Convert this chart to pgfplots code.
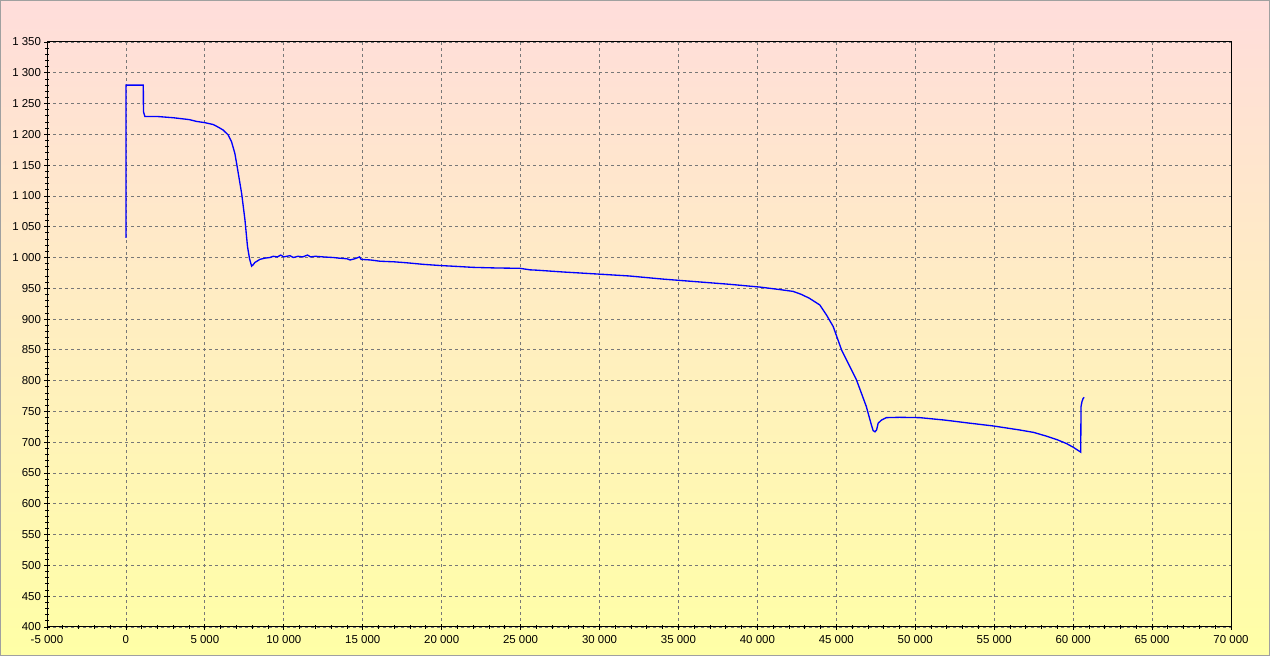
\documentclass[border=0pt]{standalone}
\usepackage{pgfplots}
\pgfplotsset{compat=1.18}
\usepackage{fontspec}
\setmainfont{Liberation Sans}
\definecolor{bgtop}{RGB}{255,221,219}
\definecolor{bgbot}{RGB}{255,255,166}
\definecolor{gridc}{RGB}{120,120,120}
\begin{document}
\begin{tikzpicture}[x=0.75pt,y=0.75pt]
\shade[top color=bgtop, bottom color=bgbot] (0,0) rectangle (1270,656);
\draw[color={rgb,255:red,160;green,160;blue,160}, line width=0.75pt] (0.5,0.5) rectangle (1269.5,655.5);
\begin{axis}[
  at={(47*0.75pt,29*0.75pt)}, anchor=south west,
  scale only axis,
  width=888pt, height=438.75pt,
  xmin=-5000, xmax=70000, ymin=400, ymax=1350,
  xtick={-5000,0,...,70000},
  ytick={400,450,...,1350},
  minor x tick num=4,
  minor y tick num=4,
  tick pos=left,
  tick align=center,
  major tick length=4pt,
  minor tick length=2.5pt,
  tick style={black, line width=0.6pt},
  axis line style={black, line width=0.75pt},
  grid=major,
  major grid style={gridc, dash pattern=on 2.25pt off 2.25pt, line width=0.6pt},
  scaled ticks=false,
  /pgf/number format/assume math mode=true,
  /pgf/number format/1000 sep={\ },
  /pgf/number format/min exponent for 1000 sep=3,
  tick label style={font=\fontsize{8.6}{10}\selectfont, text=black},
  xticklabel style={yshift=-1pt},
  yticklabel style={xshift=1pt},
]
\addplot[color={rgb,255:red,0;green,0;blue,255}, line width=1pt] coordinates {
(0,1032) (0,1280) (1100,1280) (1110,1237) (1200,1229) (2000,1229) (3000,1227)
(4000,1224) (4480,1221) (5000,1219) (5530,1216) (5900,1211) (6160,1207) (6480,1199)
(6690,1188) (6900,1169) (7050,1147) (7330,1104) (7540,1061) (7700,1018)
(7830,998) (7960,986)
(8050,988) (8170,992) (8490,997) (8800,999) (9120,1000) (9330,1002)
(9600,1001) (9800,1004) (10000,1001) (10390,1003) (10600,1000) (10900,1002)
(11200,1001) (11500,1004) (11700,1001) (12000,1002) (12500,1001) (13130,1000)
(13500,999) (14000,998) (14200,996) (14500,998) (14800,1001) (14900,997)
(15500,996) (16090,994) (17000,993) (17770,991.5) (18800,989) (19900,987)
(21000,985.5) (22000,984) (23500,983) (24950,982.5) (25600,980) (26000,979.5)
(27700,976.5) (29800,973.3) (31900,970) (34000,965) (36100,960.8) (38250,956.5)
(40150,952) (41400,948) (42260,945) (42800,940) (43300,933.7) (43950,923)
(44370,907) (44800,888) (45330,850) (45640,834) (46280,801) (46900,758)
(47200,730) (47330,719) (47450,717) (47550,720)
(47650,731) (47860,736) (48170,740) (49000,740.5) (50280,740) (51870,736)
(53450,731) (54930,726.5) (56600,720) (57500,716) (58300,710) (59000,704)
(59570,698) (60000,692) (60480,684) (60500,758) (60560,766) (60630,771) (60700,773)
};
\draw[black, line width=1.5pt] (rel axis cs:0,0) -- (rel axis cs:1,0);
\end{axis}
\end{tikzpicture}
\end{document}
